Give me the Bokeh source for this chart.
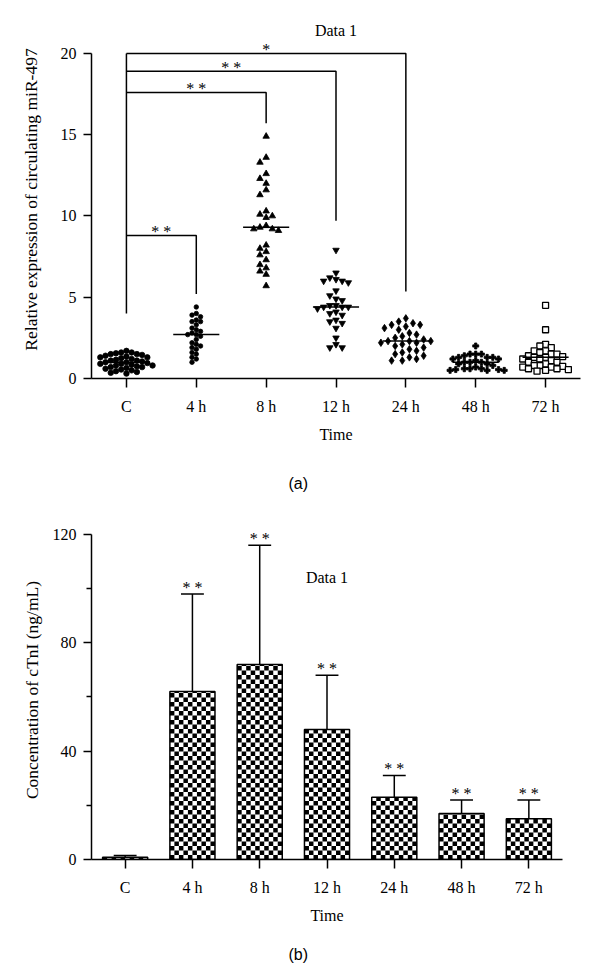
import numpy as np
from bokeh.plotting import figure
from bokeh.layouts import column
from bokeh.models import FixedTicker, Label, Title, Range1d
from bokeh.embed import file_html
from bokeh.resources import INLINE
from bokeh.core.properties import value

# ---------------- data ----------------
groups = ["C", "4 h", "8 h", "12 h", "24 h", "48 h", "72 h"]

mir_c = [1.7, 1.6, 1.6, 1.55, 1.5, 1.5, 1.45, 1.4, 1.35, 1.3, 1.3, 1.25, 1.2, 1.15, 1.1, 1.1, 1.05, 1.0,
         1.0, 0.95, 0.9, 0.9, 0.85, 0.8, 0.8, 0.75, 0.7, 0.7, 0.65, 0.6, 0.55, 0.5, 0.45, 0.4, 0.35, 0.3]
mir_4h = [4.4, 4.0, 3.9, 3.8, 3.6, 3.5, 3.5, 3.3, 3.1, 3.0, 2.9, 2.8, 2.7, 2.7, 2.6, 2.4, 2.2, 2.1, 2.0,
          1.9, 1.8, 1.6, 1.5, 1.3, 1.2, 1.0]
mir_8h = [14.9, 13.6, 13.3, 12.6, 12.3, 12.0, 11.6, 11.3, 10.3, 10.1, 10.0, 9.9, 9.4, 9.3, 9.2, 9.2, 9.1,
          8.2, 8.0, 7.8, 7.6, 7.3, 7.0, 6.8, 6.6, 6.4, 5.7]
mir_12h = [7.9, 6.5, 6.2, 6.1, 6.0, 6.0, 5.9, 5.4, 5.1, 4.9, 4.8, 4.5, 4.5, 4.4, 4.4, 4.4, 4.3, 4.1, 4.0,
           3.9, 3.6, 3.5, 3.4, 3.1, 2.5, 2.1, 1.9, 1.9]
mir_24h = [3.7, 3.5, 3.4, 3.3, 3.3, 3.2, 3.1, 3.0, 2.8, 2.7, 2.6, 2.5, 2.4, 2.3, 2.3, 2.3, 2.2, 2.2, 2.1,
           2.0, 1.9, 1.8, 1.7, 1.6, 1.5, 1.4, 1.3, 1.2, 1.1, 1.1]
mir_48h = [2.0, 1.5, 1.5, 1.5, 1.4, 1.3, 1.3, 1.3, 1.2, 1.2, 1.1, 1.0, 1.0, 1.0, 0.9, 0.9, 0.8, 0.7, 0.6,
           0.6, 0.6, 0.55, 0.55, 0.5, 0.5, 0.5]
mir_72h = [4.5, 3.0, 2.1, 2.0, 1.9, 1.7, 1.7, 1.6, 1.5, 1.5, 1.4, 1.35, 1.3, 1.3, 1.2, 1.2, 1.1, 1.0, 1.0,
           0.9, 0.8, 0.8, 0.75, 0.7, 0.7, 0.6, 0.6, 0.55, 0.5, 0.45]
mir_medians = [1.0, 2.7, 9.3, 4.4, 2.3, 1.0, 1.3]

# significance brackets (from C to target group)
bracket_targets = [1, 2, 3, 4]
bracket_levels = [8.8, 17.6, 18.9, 20.0]
bracket_ends = [5.2, 15.7, 9.7, 5.35]
bracket_start = 4.0
bracket_labels = ["* *", "* *", "* *", "*"]

ctni_mean = [0.8, 62, 72, 48, 23, 17, 15]
ctni_sd = [0.7, 36, 44, 20, 8, 5, 7]
ctni_labels = ["", "* *", "* *", "* *", "* *", "* *", "* *"]

# ---------------- styling helpers ----------------
SERIF = "Liberation Serif"


def style_axes(p):
    for ax in (p.xaxis[0], p.yaxis[0]):
        ax.axis_line_width = 1.5
        ax.axis_line_color = "black"
        ax.major_tick_line_width = 1.5
        ax.major_tick_line_color = "black"
        ax.minor_tick_line_width = 1.5
        ax.minor_tick_line_color = "black"
        ax.major_tick_in = 0
        ax.minor_tick_in = 0
        ax.major_label_text_font = SERIF
        ax.major_label_text_font_size = "16px"
        ax.major_label_text_color = "black"
        ax.axis_label_text_font = SERIF
        ax.axis_label_text_font_size = "16px"
        ax.axis_label_text_font_style = "normal"
        ax.axis_label_text_color = "black"
    p.yaxis.axis_label_text_font_size = "17.5px"
    p.xgrid.visible = False
    p.ygrid.visible = False
    p.outline_line_color = None
    p.xaxis.major_tick_out = 9
    p.yaxis.major_tick_out = 8
    p.xaxis.major_label_standoff = 10
    p.yaxis.major_label_standoff = 7
    p.xaxis.axis_label_standoff = 8
    p.xaxis.ticker = FixedTicker(ticks=list(range(len(groups))))
    p.xaxis.major_label_overrides = {i: g for i, g in enumerate(groups)}
    p.xaxis.bounds = (-0.5, len(groups) - 0.5)


def swarm(vals, ppu_x, ppu_y, diam):
    order = sorted(range(len(vals)), key=lambda k: -vals[k])
    placed = []
    xs = [0.0] * len(vals)
    step = diam * 0.5
    for k in order:
        y = vals[k] * ppu_y
        cands = [0.0]
        for n in range(1, 40):
            cands += [n * step, -n * step] if n % 2 else [-n * step, n * step]
        for c in cands:
            if all((c - px) ** 2 + (y - py) ** 2 >= diam ** 2 for px, py in placed):
                placed.append((c, y))
                xs[k] = c / ppu_x
                break
    return xs


# ---------------- chart (a) ----------------
FW1, FH1 = 489, 358
Y1_END = 22.03
p1 = figure(frame_width=FW1, frame_height=FH1, x_range=Range1d(-0.5, 6.5), y_range=Range1d(0, Y1_END),
            min_border_left=91, min_border_right=20, min_border_top=20, min_border_bottom=130,
            output_backend="svg", toolbar_location=None, background_fill_color="white")
style_axes(p1)
p1.yaxis.axis_label_standoff = 17
p1.xaxis.axis_label = "Time"
p1.yaxis.axis_label = "Relative expression of circulating miR-497"
p1.yaxis.ticker = FixedTicker(ticks=[0, 5, 10, 15, 20])
p1.yaxis.bounds = (0, 20)

ppx1 = FW1 / 7.0
ppy1 = FH1 / Y1_END
series = [mir_c, mir_4h, mir_8h, mir_12h, mir_24h, mir_48h, mir_72h]
markers = ["circle", "circle", "triangle", "inverted_triangle", "diamond", "plus", "square"]
sizes = [5.5, 4.5, 6.5, 6.5, 7.5, 6, 6]
for i, (vals, mk, sz) in enumerate(zip(series, markers, sizes)):
    offs = swarm(vals, ppx1, ppy1, sz * 0.95)
    xs = [i + o for o in offs]
    if mk == "square":
        p1.scatter(xs, vals, marker=mk, size=sz, fill_color="white", line_color="black", line_width=1.3)
    else:
        p1.scatter(xs, vals, marker=mk, size=sz, fill_color="black", line_color="black", line_width=0.8)

# medians
idx = list(range(len(groups)))
p1.segment(x0=[i - 0.33 for i in idx], x1=[i + 0.33 for i in idx], y0=mir_medians, y1=mir_medians,
           line_color="black", line_width=1.5)

# brackets
bx = [[0, 0]]
by = [[bracket_start, max(bracket_levels)]]
for t, lv, en in zip(bracket_targets, bracket_levels, bracket_ends):
    bx.append([0, t, t])
    by.append([lv, lv, en])
p1.multi_line(bx, by, line_color="black", line_width=1.5)
p1.text(x=[t / 2 for t in bracket_targets], y=[lv + 0.25 for lv in bracket_levels], text=bracket_labels,
        text_font=value(SERIF), text_font_size="16px", text_align="center", text_baseline="alphabetic",
        text_color="black")
p1.add_layout(Label(x=3, y=21.4, text="Data 1", text_font=SERIF, text_font_size="16px",
                    text_align="center", text_baseline="middle", text_color="black"))
p1.add_layout(Title(text="(a)", align="left", offset=197, standoff=54, text_font="Liberation Sans",
                    text_font_size="16px", text_font_style="normal", text_color="black"), "below")

# ---------------- chart (b) ----------------
FW2, FH2 = 471, 339
Y2_END = 125.1
p2 = figure(frame_width=FW2, frame_height=FH2, x_range=Range1d(-0.5, 6.5), y_range=Range1d(0, Y2_END),
            min_border_left=91, min_border_right=38, min_border_top=2, min_border_bottom=60,
            output_backend="svg", toolbar_location=None, background_fill_color="white")
style_axes(p2)
p2.yaxis.axis_label_standoff = 8
p2.xaxis.axis_label = "Time"
p2.yaxis.axis_label = "Concentration of cTnI (ng/mL)"
p2.yaxis.ticker = FixedTicker(ticks=[0, 40, 80, 120], minor_ticks=[20, 60, 100])
p2.yaxis.minor_tick_out = 5
p2.yaxis.bounds = (0, 120)

ppx2 = FW2 / 7.0
ppy2 = FH2 / Y2_END
bar_w = 0.67
cell_px = 4.5
ncols = max(1, int(round(bar_w * ppx2 / cell_px)))
cw = bar_w / ncols
ch = cell_px / ppy2
L, R, B, T = [], [], [], []
for i, v in enumerate(ctni_mean):
    x0 = i - bar_w / 2
    nrows = int(np.ceil(v / ch))
    for r in range(nrows):
        b = r * ch
        t = min((r + 1) * ch, v)
        for c in range(ncols):
            if (r + c) % 2 == 0:
                L.append(x0 + c * cw)
                R.append(x0 + (c + 1) * cw)
                B.append(b)
                T.append(t)
p2.quad(left=L, right=R, bottom=B, top=T, fill_color="black", line_color=None)
p2.vbar(x=idx, top=ctni_mean, width=bar_w, fill_color=None, line_color="black", line_width=1.5)
upper = [m + s for m, s in zip(ctni_mean, ctni_sd)]
p2.segment(x0=idx, x1=idx, y0=ctni_mean, y1=upper, line_color="black", line_width=1.5)
p2.segment(x0=[i - 0.17 for i in idx], x1=[i + 0.17 for i in idx], y0=upper, y1=upper,
           line_color="black", line_width=1.5)
p2.text(x=idx, y=[u + 2.5 for u in upper], text=ctni_labels, text_font=value(SERIF),
        text_font_size="16px", text_align="center", text_baseline="alphabetic", text_color="black")
p2.add_layout(Label(x=3, y=104, text="Data 1", text_font=SERIF, text_font_size="16px",
                    text_align="center", text_baseline="middle", text_color="black"))
p2.add_layout(Title(text="(b)", align="left", offset=197, standoff=34, text_font="Liberation Sans",
                    text_font_size="16px", text_font_style="normal", text_color="black"), "below")

layout = column(p1, p2)
open("out.html", "w").write(file_html(layout, INLINE))
